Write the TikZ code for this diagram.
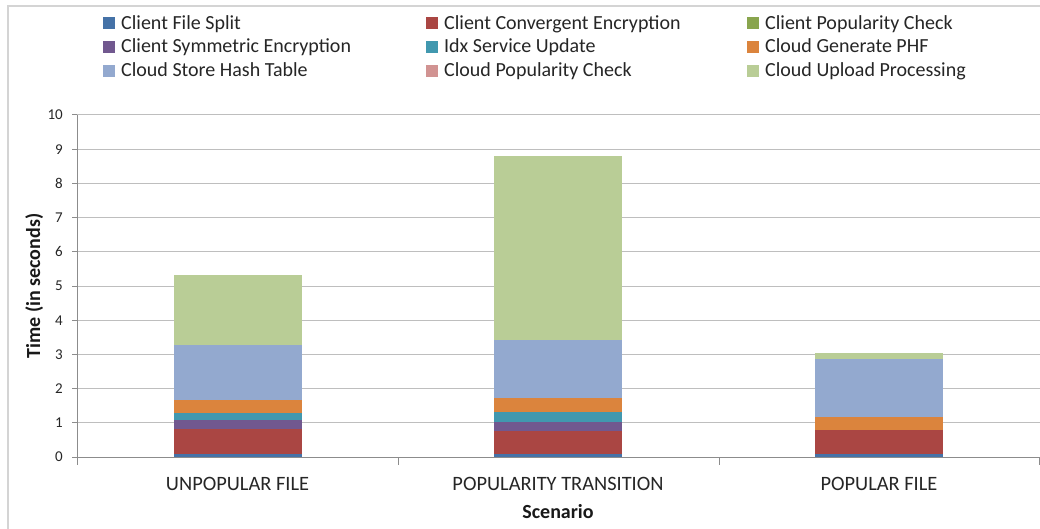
\documentclass[tikz,border=0pt]{standalone}
\usepackage{fontspec}
\setmainfont{Carlito}
\definecolor{cFS}{HTML}{4572A7}
\definecolor{cCE}{HTML}{AA4643}
\definecolor{cCP}{HTML}{89A54E}
\definecolor{cSE}{HTML}{71588F}
\definecolor{cIdx}{HTML}{4198AF}
\definecolor{cPHF}{HTML}{DB843D}
\definecolor{cHT}{HTML}{93A9CF}
\definecolor{cPC}{HTML}{D19392}
\definecolor{cUP}{HTML}{B9CD96}
\definecolor{gridgray}{HTML}{BEBEBE}
\definecolor{axisgray}{HTML}{8C8C8C}
\definecolor{framegray}{HTML}{D4D4D4}
\tikzset{
  gridline/.style={draw=gridgray, line width=1pt},
  axisline/.style={draw=axisgray, line width=1pt},
  chartframe/.style={draw=framegray, line width=2pt},
  legtext/.style={anchor=base west, inner sep=0pt, font=\fontsize{20}{24}\selectfont, text=black!85},
  ticklabel/.style={anchor=east, inner sep=0pt, font=\fontsize{15}{18}\selectfont, text=black!85},
  catlabel/.style={anchor=base, inner sep=0pt, font=\fontsize{20.4}{24}\selectfont, text=black!85},
  axistitle/.style={anchor=base, inner sep=0pt, font=\bfseries\fontsize{20}{24}\selectfont, text=black!90},
}
\newcommand\legentry[5]{%
  \fill[#4] (#1,#2-12) rectangle (#1+12,#2);
  \node[legtext] (#5) at (#1+18,#2) {#3};}
\begin{document}
\begin{tikzpicture}[x=1pt,y=-1pt]
\useasboundingbox (0,0) rectangle (1040,529);
\fill[white] (0,0) rectangle (1040,529);
% chart border
\draw[chartframe] (8,6) rectangle (1060,545);

% legend, three columns
\legentry{103}{29.3}{Client File Split}{cFS}{lg1}
\legentry{426}{29.3}{Client Convergent Encryption}{cCE}{lg2}
\legentry{747}{29.3}{Client Popularity Check}{cCP}{lg3}
\legentry{103}{52.7}{Client Symmetric Encryption}{cSE}{lg4}
\legentry{426}{52.7}{Idx Service Update}{cIdx}{lg5}
\legentry{747}{52.7}{Cloud Generate PHF}{cPHF}{lg6}
\legentry{103}{76.7}{Cloud Store Hash Table}{cHT}{lg7}
\legentry{426}{76.7}{Cloud Popularity Check}{cPC}{lg8}
\legentry{747}{76.7}{Cloud Upload Processing}{cUP}{lg9}

% plot area: values in seconds upwards from the x axis
\begin{scope}[shift={(0,457)}, y=34.2pt]
  \foreach \v in {1,...,10}
    \draw[gridline] (77,\v) -- (1040,\v);
  % stacked bars
  \foreach \lo/\hi/\c in {0/0.1/cFS, 0.1/0.81/cCE, 0.81/1.08/cSE, 1.08/1.28/cIdx,
                          1.28/1.67/cPHF, 1.67/3.27/cHT, 3.27/5.32/cUP}
    \fill[\c] (174,\lo) rectangle (302,\hi);
  \foreach \lo/\hi/\c in {0/0.1/cFS, 0.1/0.76/cCE, 0.76/1.02/cSE, 1.02/1.32/cIdx,
                          1.32/1.73/cPHF, 1.73/3.42/cHT, 3.42/8.8/cUP}
    \fill[\c] (494,\lo) rectangle (622,\hi);
  \foreach \lo/\hi/\c in {0/0.1/cFS, 0.1/0.79/cCE, 0.79/1.17/cPHF,
                          1.17/2.87/cHT, 2.87/3.04/cUP}
    \fill[\c] (815,\lo) rectangle (943,\hi);
  % axes and ticks
  \draw[axisline] (77,0) -- (77,10);
  \draw[axisline] (77,0) -- (1040,0);
  \foreach \v in {0,...,10} {
    \draw[axisline] (72,\v) -- (77,\v);
    \node[ticklabel] (yt\v) at (63,\v) {\v};
  }
  \foreach \t in {77,398,719,1039}
    \draw[axisline] (\t,0) -- (\t,-0.24);
\end{scope}

% category labels and axis titles
\node[catlabel] (c1) at (237.5,490) {UNPOPULAR FILE};
\node[catlabel] (c2) at (558,490) {POPULARITY TRANSITION};
\node[catlabel] (c3) at (879,490) {POPULAR FILE};
\node[axistitle] (xt) at (558,518) {Scenario};
\node[axistitle, rotate=90] (yt) at (40,286) {Time (in seconds)};
\end{tikzpicture}
\end{document}
